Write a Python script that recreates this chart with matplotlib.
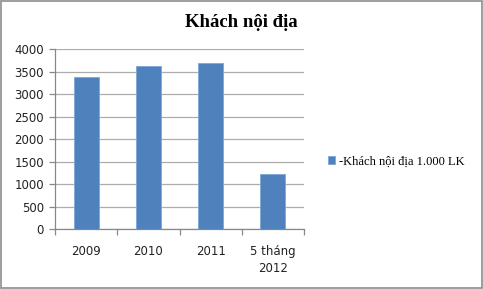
import matplotlib.pyplot as plt
from matplotlib.patches import Rectangle

categories = ["2009", "2010", "2011", "5 tháng\n2012"]
values = [3390, 3620, 3700, 1230]
series_name = "-Khách nội địa 1.000 LK"
yticks = [0, 500, 1000, 1500, 2000, 2500, 3000, 3500, 4000]

bar_color = "#4f81bd"
grid_color = "#acacac"

fig = plt.figure(figsize=(4.83, 2.89), dpi=100)
ax = fig.add_axes([0.1139, 0.2066, 0.5155, 0.6228])

x = list(range(len(categories)))
ax.bar(x, values, width=0.4, color=bar_color, edgecolor="#7ea6d6", linewidth=0.6,
       label=series_name, zorder=3)

ax.set_xlim(-0.5, len(categories) - 0.5)
ax.set_ylim(0, 4000)
ax.set_yticks(yticks)
ax.set_yticklabels([str(t) for t in yticks], fontsize=8.5, fontfamily="DejaVu Sans", color="#222222")
ax.yaxis.grid(True, color=grid_color, linewidth=0.9, zorder=0)

ax.set_xticks(x)
ax.set_xticklabels(categories, fontsize=8.5, fontfamily="DejaVu Sans", color="#222222",
                   linespacing=1.4)
ax.set_xticks([i - 0.5 for i in range(len(categories) + 1)], minor=True)
ax.tick_params(axis="x", which="major", length=0, pad=11)
ax.tick_params(axis="x", which="minor", length=4, color="#888888", width=0.9)
ax.tick_params(axis="y", length=4, color="#888888", width=0.9, pad=4)

for side in ["top", "right"]:
    ax.spines[side].set_visible(False)
for side in ["left", "bottom"]:
    ax.spines[side].set_color("#888888")
    ax.spines[side].set_linewidth(0.9)

fig.text(0.499, 0.922, "Khách nội địa", ha="center", va="center",
         fontsize=13.5, fontweight="bold", fontfamily="Liberation Serif")

fig.legend(loc="center left", bbox_to_anchor=(0.655, 0.442), frameon=False,
           prop={"family": "Liberation Serif", "size": 9},
           handlelength=0.6, handleheight=0.6, handletextpad=0.3)

fig.patches.append(Rectangle((0.002, 0.003), 0.995, 0.993, transform=fig.transFigure,
                             fill=False, edgecolor="#8c8c8c", linewidth=1.2))

fig.savefig("out.png", dpi=100)
